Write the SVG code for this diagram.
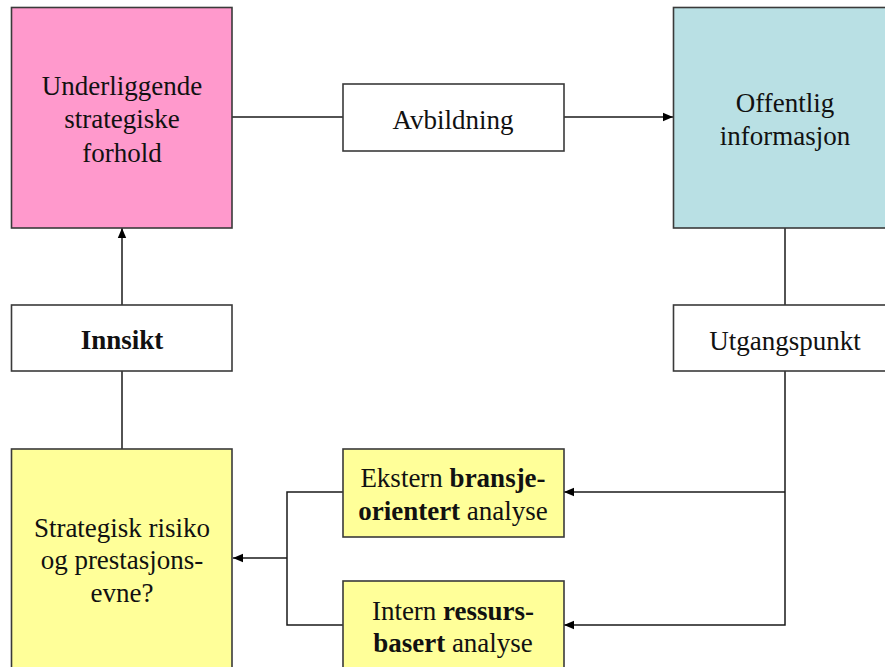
<svg xmlns="http://www.w3.org/2000/svg" width="885" height="667" viewBox="0 0 885 667">
  <style>
    .box { stroke: #3a3a3a; stroke-width: 1.6; }
    .pink { fill: #ff99cc; }
    .blue { fill: #b9e0e4; }
    .yellow { fill: #ffff99; }
    .white { fill: #ffffff; }
    text { font-family: 'Liberation Serif', 'Times New Roman', Times, Tinos, 'DejaVu Serif', 'Noto Serif', FreeSerif, serif; font-size: 27px; fill: #111111; text-anchor: middle; }
    .b { font-weight: bold; }
    .wire { fill: none; stroke: #1a1a1a; stroke-width: 1.5; }
  </style>
  <defs>
    <marker id="arrow" viewBox="0 0 10 10" refX="10" refY="5" markerWidth="10" markerHeight="10" markerUnits="userSpaceOnUse" orient="auto">
      <path d="M0,0.8 L10,5 L0,9.2 Z" fill="#000000"/>
    </marker>
  </defs>
  <rect width="885" height="667" fill="#ffffff"/>

  <g id="connectors">
    <!-- Underliggende -> Avbildning -> Offentlig -->
    <line class="wire" x1="232" y1="117" x2="343" y2="117"/>
    <line class="wire" x1="564" y1="117" x2="673" y2="117" marker-end="url(#arrow)"/>
    <!-- Offentlig -> Utgangspunkt -> analyses -->
    <line class="wire" x1="785" y1="228" x2="785" y2="305"/>
    <polyline class="wire" points="785,371 785,625 564,625" marker-end="url(#arrow)"/>
    <line class="wire" x1="785" y1="492" x2="564" y2="492" marker-end="url(#arrow)"/>
    <!-- analyses -> Strategisk risiko -->
    <polyline class="wire" points="343,492 287,492 287,625 343,625"/>
    <line class="wire" x1="287" y1="558" x2="233" y2="558" marker-end="url(#arrow)"/>
    <!-- Strategisk risiko -> Innsikt -> Underliggende -->
    <line class="wire" x1="122" y1="449" x2="122" y2="371"/>
    <line class="wire" x1="122" y1="305" x2="122" y2="228" marker-end="url(#arrow)"/>
  </g>

  <g id="underliggende">
    <rect class="box pink" x="11.5" y="7.5" width="220.5" height="220.5"/>
    <text x="122" y="95">Underliggende</text>
    <text x="122" y="128">strategiske</text>
    <text x="122" y="162">forhold</text>
  </g>

  <g id="avbildning">
    <rect class="box white" x="343" y="84" width="221" height="67"/>
    <text x="453" y="129">Avbildning</text>
  </g>

  <g id="offentlig">
    <rect class="box blue" x="673.5" y="7.5" width="225" height="220.5"/>
    <text x="785" y="112">Offentlig</text>
    <text x="785" y="145">informasjon</text>
  </g>

  <g id="innsikt">
    <rect class="box white" x="11.5" y="305" width="220.5" height="66"/>
    <text class="b" x="122" y="349">Innsikt</text>
  </g>

  <g id="utgangspunkt">
    <rect class="box white" x="673.5" y="305" width="225" height="66"/>
    <text x="785" y="350">Utgangspunkt</text>
  </g>

  <g id="strategisk">
    <rect class="box yellow" x="11.5" y="449" width="220.5" height="240"/>
    <text x="122" y="537">Strategisk risiko</text>
    <text x="122" y="569">og prestasjons-</text>
    <text x="122" y="602">evne?</text>
  </g>

  <g id="ekstern">
    <rect class="box yellow" x="343" y="449" width="221" height="88"/>
    <text x="453" y="487">Ekstern <tspan class="b">bransje-</tspan></text>
    <text x="453" y="520"><tspan class="b">orientert</tspan> analyse</text>
  </g>

  <g id="intern">
    <rect class="box yellow" x="343" y="581" width="221" height="100"/>
    <text x="453" y="620">Intern <tspan class="b">ressurs-</tspan></text>
    <text x="453" y="652"><tspan class="b">basert</tspan> analyse</text>
  </g>
</svg>
